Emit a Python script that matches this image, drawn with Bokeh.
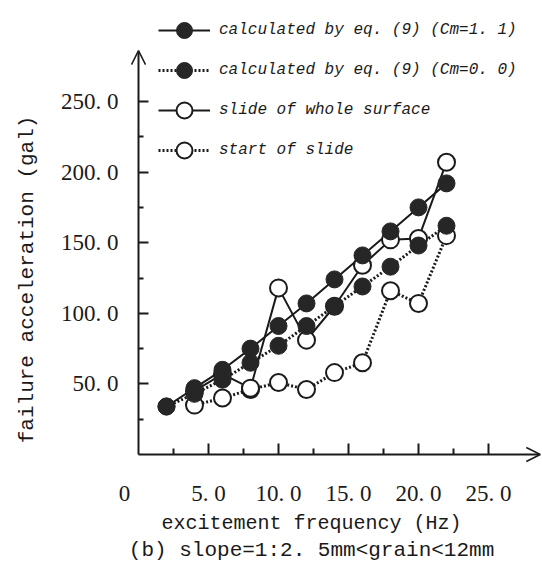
import math
from bokeh.plotting import figure
from bokeh.models import FixedTicker, Arrow, OpenHead, Label, Legend, LegendItem
from bokeh.embed import file_html
from bokeh.resources import INLINE

# ---- data ----
freq = [2, 4, 6, 8, 10, 12, 14, 16, 18, 20, 22]
cm11 = [34, 47, 60, 75, 91, 107, 124, 141, 158, 175, 192]
cm00 = [34, 43, 53, 65, 77, 91, 105, 119, 133, 148, 162]
freq_obs = [4, 6, 8, 10, 12, 14, 16, 18, 20, 22]
whole = [45, 57, 47, 118, 81, 105, 134, 152, 153, 207]
start = [35, 40, 46, 51, 46, 58, 65, 116, 107, 155]

x_ticks = [5, 10, 15, 20, 25]
x_tick_labels = ["5. 0", "10. 0", "15. 0", "20. 0", "25. 0"]
x_minor = [2.5, 7.5, 12.5, 17.5, 22.5]
y_ticks = [50, 100, 150, 200, 250]
y_tick_labels = ["50. 0", "100. 0", "150. 0", "200. 0", "250. 0"]
y_minor = [25, 75, 125, 175, 225]

labels = ["calculated by eq. (9) (Cm=1. 1)",
          "calculated by eq. (9) (Cm=0. 0)",
          "slide of whole surface",
          "start of slide"]
x_title = "excitement frequency (Hz)"
y_title = "failure acceleration (gal)"
caption = "(b) slope=1:2. 5mm<grain<12mm"

INK = "#1a1a1a"
FILL = "#262626"
SERIF = "Liberation Serif"
MONO = "Liberation Mono"

p = figure(width=542, height=580, x_range=(-9.857, 28.857), y_range=(-89.2, 321.5),
           output_backend="svg", toolbar_location=None,
           min_border_left=0, min_border_right=0, min_border_top=0,
           min_border_bottom=0)
p.outline_line_color = None
p.xgrid.grid_line_color = None
p.ygrid.grid_line_color = None
p.background_fill_color = "white"

for ax, ticks, minor, labs, tin, mtin in [
        (p.xaxis[0], x_ticks, x_minor, x_tick_labels, 11, 6),
        (p.yaxis[0], y_ticks, y_minor, y_tick_labels, 10, 5)]:
    ax.fixed_location = 0
    ax.ticker = FixedTicker(ticks=ticks, minor_ticks=minor)
    ax.major_label_overrides = dict(zip(ticks, labs))
    ax.axis_line_color = None
    ax.major_tick_in = tin
    ax.major_tick_out = 0
    ax.minor_tick_in = mtin
    ax.minor_tick_out = 0
    ax.major_tick_line_color = INK
    ax.minor_tick_line_color = INK
    ax.major_tick_line_width = 2
    ax.minor_tick_line_width = 2
    ax.major_label_text_font = SERIF
    ax.major_label_text_font_size = "23px"
    ax.major_label_text_color = INK

p.xaxis.major_label_standoff = 26
p.yaxis.major_label_standoff = 20

# axes with arrow heads
p.add_layout(Arrow(end=OpenHead(size=14, line_width=1.5, line_color=INK),
                   x_start=0, y_start=0, x_end=0, y_end=286,
                   line_width=2, line_color=INK))
p.add_layout(Arrow(end=OpenHead(size=14, line_width=1.5, line_color=INK),
                   x_start=0, y_start=0, x_end=28.7, y_end=0,
                   line_width=2, line_color=INK))

# lines first
l_start = p.line(freq_obs, start, line_width=3, line_dash="2 2", line_color=INK)
l_whole = p.line(freq_obs, whole, line_width=2, line_color=INK)
l_c00 = p.line(freq, cm00, line_width=3, line_dash="2 2", line_color=INK)
l_c11 = p.line(freq, cm11, line_width=2, line_color=INK)

# markers (open first, filled on top)
s_start = p.scatter(freq_obs, start, size=17, marker="circle", fill_color="white",
                    line_color=INK, line_width=2)
s_whole = p.scatter(freq_obs, whole, size=17, marker="circle", fill_color="white",
                    line_color=INK, line_width=2)
s_c00 = p.scatter(freq, cm00, size=17, marker="circle", fill_color=FILL,
                  line_color=FILL, line_width=1)
s_c11 = p.scatter(freq, cm11, size=17, marker="circle", fill_color=FILL,
                  line_color=FILL, line_width=1)

legend = Legend(items=[
    LegendItem(label=labels[0], renderers=[l_c11, s_c11]),
    LegendItem(label=labels[1], renderers=[l_c00, s_c00]),
    LegendItem(label=labels[2], renderers=[l_whole, s_whole]),
    LegendItem(label=labels[3], renderers=[l_start, s_start]),
], location=(158, 410), glyph_width=52, glyph_height=40, label_height=40,
    spacing=0, padding=0, margin=0, label_standoff=9,
    border_line_color=None, background_fill_alpha=0,
    label_text_font=MONO, label_text_font_style="italic",
    label_text_font_size="16px", label_text_color=INK)
p.add_layout(legend)

# origin label, axis titles and caption
p.add_layout(Label(x=-1, y=-27.6, text="0",
                   text_align="center", text_baseline="middle",
                   text_font=SERIF, text_font_size="23px", text_color=INK))
p.add_layout(Label(x=12.36, y=-48.9, text=x_title,
                   text_align="center", text_baseline="middle",
                   text_font=MONO, text_font_size="20px", text_color=INK))
p.add_layout(Label(x=12.36, y=-68, text=caption,
                   text_align="center", text_baseline="middle",
                   text_font=MONO, text_font_size="21px", text_color=INK))
p.add_layout(Label(x=-7.93, y=124, text=y_title, angle=math.pi / 2,
                   text_align="center", text_baseline="middle",
                   text_font=MONO, text_font_size="21px", text_color=INK))

open("out.html", "w").write(file_html(p, INLINE))
